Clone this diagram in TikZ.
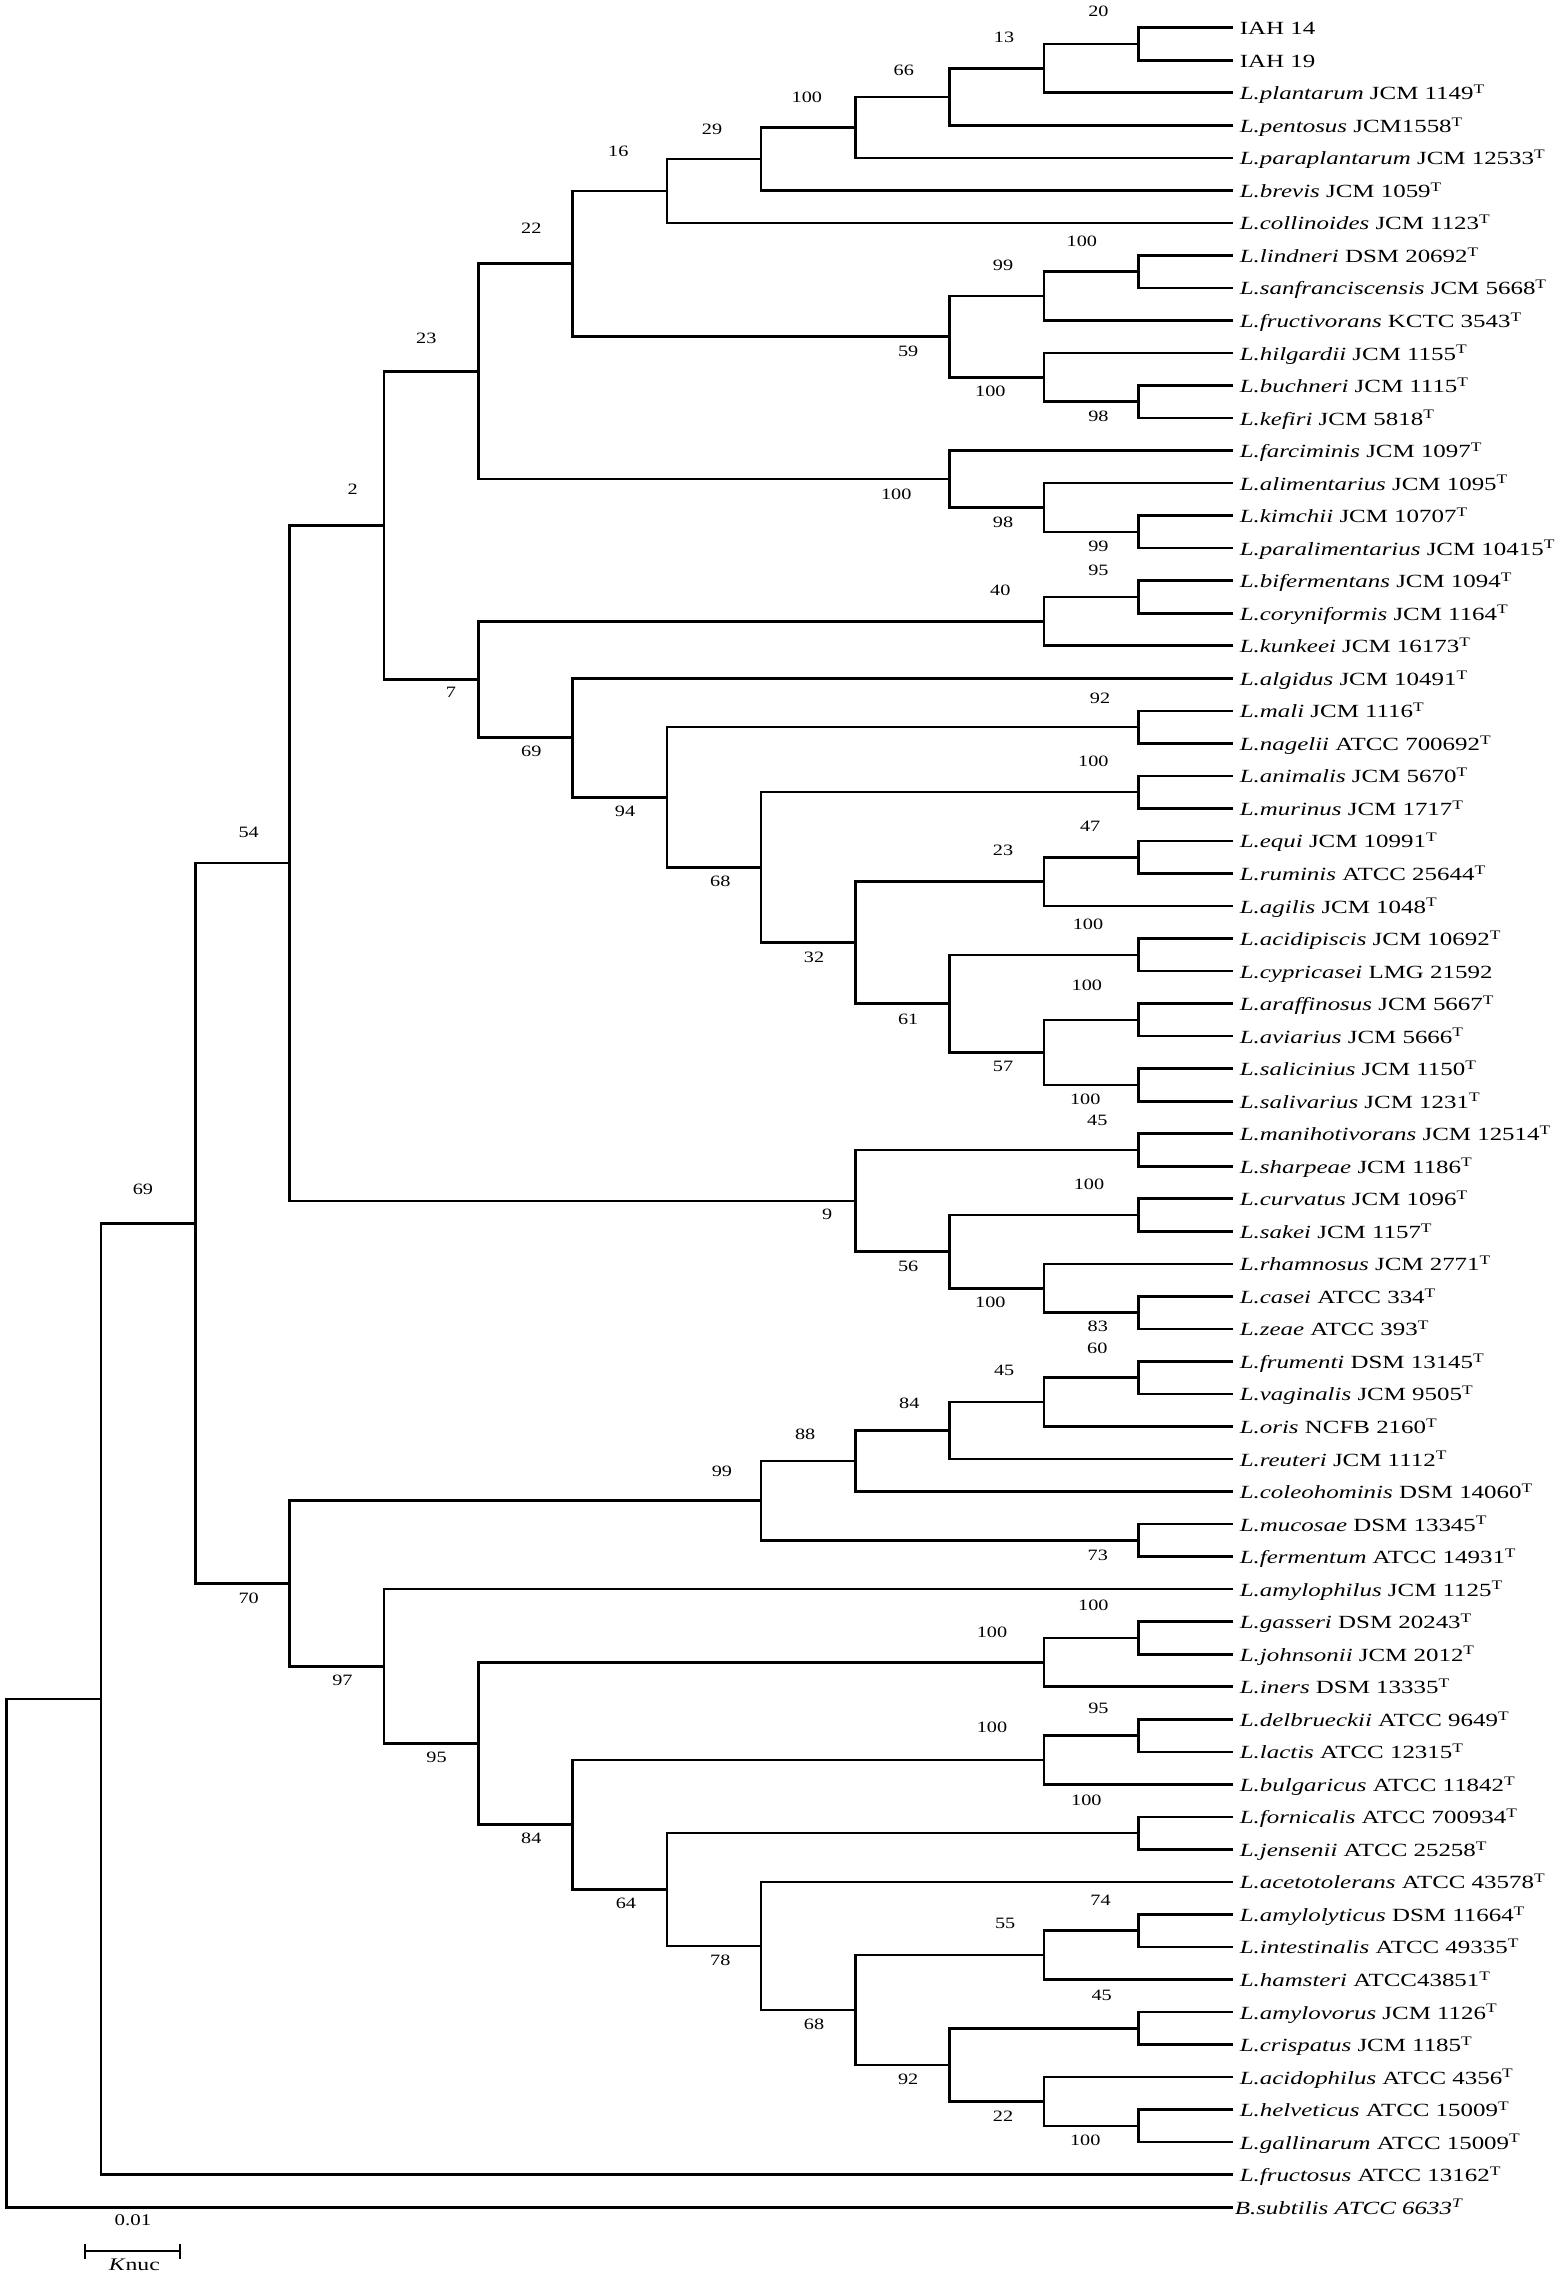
\documentclass[tikz,border=0pt]{standalone}
\usepackage{fontspec}
\setmainfont{Liberation Serif}
\newfontfamily\leaffont{Liberation Serif}[FakeStretch=1.34]
\newfontfamily\bsfont{Liberation Serif}[FakeStretch=1.28]
\newcommand{\typeT}{\textsuperscript{T}}
\begin{document}
\begin{tikzpicture}[x=1pt,y=-1pt,
  declare function={X(\k)=6.7+94.3*\k; Y(\i)=27.7+(\i-1)*32.53;},
  branch/.style={line width=2.6pt, line join=miter},
  leaflab/.style={anchor=base west, inner sep=0pt, font=\leaffont\fontsize{18.6}{20}\selectfont},
  bslab/.style={anchor=center, inner sep=0pt, font=\bsfont\fontsize{15.8}{17}\selectfont}]
\fill[white] (0,0) rectangle (1559,2275);
\useasboundingbox (0,0) rectangle (1559,2275);

% leaves
\foreach \i/\txt in {
 1/{IAH 14},
 2/{IAH 19},
 3/{\textit{L.plantarum} JCM 1149\typeT},
 4/{\textit{L.pentosus} JCM1558\typeT},
 5/{\textit{L.paraplantarum} JCM 12533\typeT},
 6/{\textit{L.brevis} JCM 1059\typeT},
 7/{\textit{L.collinoides} JCM 1123\typeT},
 8/{\textit{L.lindneri} DSM 20692\typeT},
 9/{\textit{L.sanfranciscensis} JCM 5668\typeT},
 10/{\textit{L.fructivorans} KCTC 3543\typeT},
 11/{\textit{L.hilgardii} JCM 1155\typeT},
 12/{\textit{L.buchneri} JCM 1115\typeT},
 13/{\textit{L.kefiri} JCM 5818\typeT},
 14/{\textit{L.farciminis} JCM 1097\typeT},
 15/{\textit{L.alimentarius} JCM 1095\typeT},
 16/{\textit{L.kimchii} JCM 10707\typeT},
 17/{\textit{L.paralimentarius} JCM 10415\typeT},
 18/{\textit{L.bifermentans} JCM 1094\typeT},
 19/{\textit{L.coryniformis} JCM 1164\typeT},
 20/{\textit{L.kunkeei} JCM 16173\typeT},
 21/{\textit{L.algidus} JCM 10491\typeT},
 22/{\textit{L.mali} JCM 1116\typeT},
 23/{\textit{L.nagelii} ATCC 700692\typeT},
 24/{\textit{L.animalis} JCM 5670\typeT},
 25/{\textit{L.murinus} JCM 1717\typeT},
 26/{\textit{L.equi} JCM 10991\typeT},
 27/{\textit{L.ruminis} ATCC 25644\typeT},
 28/{\textit{L.agilis} JCM 1048\typeT},
 29/{\textit{L.acidipiscis} JCM 10692\typeT},
 30/{\textit{L.cypricasei} LMG 21592},
 31/{\textit{L.araffinosus} JCM 5667\typeT},
 32/{\textit{L.aviarius} JCM 5666\typeT},
 33/{\textit{L.salicinius} JCM 1150\typeT},
 34/{\textit{L.salivarius} JCM 1231\typeT},
 35/{\textit{L.manihotivorans} JCM 12514\typeT},
 36/{\textit{L.sharpeae} JCM 1186\typeT},
 37/{\textit{L.curvatus} JCM 1096\typeT},
 38/{\textit{L.sakei} JCM 1157\typeT},
 39/{\textit{L.rhamnosus} JCM 2771\typeT},
 40/{\textit{L.casei} ATCC 334\typeT},
 41/{\textit{L.zeae} ATCC 393\typeT},
 42/{\textit{L.frumenti} DSM 13145\typeT},
 43/{\textit{L.vaginalis} JCM 9505\typeT},
 44/{\textit{L.oris} NCFB 2160\typeT},
 45/{\textit{L.reuteri} JCM 1112\typeT},
 46/{\textit{L.coleohominis} DSM 14060\typeT},
 47/{\textit{L.mucosae} DSM 13345\typeT},
 48/{\textit{L.fermentum} ATCC 14931\typeT},
 49/{\textit{L.amylophilus} JCM 1125\typeT},
 50/{\textit{L.gasseri} DSM 20243\typeT},
 51/{\textit{L.johnsonii} JCM 2012\typeT},
 52/{\textit{L.iners} DSM 13335\typeT},
 53/{\textit{L.delbrueckii} ATCC 9649\typeT},
 54/{\textit{L.lactis} ATCC 12315\typeT},
 55/{\textit{L.bulgaricus} ATCC 11842\typeT},
 56/{\textit{L.fornicalis} ATCC 700934\typeT},
 57/{\textit{L.jensenii} ATCC 25258\typeT},
 58/{\textit{L.acetotolerans} ATCC 43578\typeT},
 59/{\textit{L.amylolyticus} DSM 11664\typeT},
 60/{\textit{L.intestinalis} ATCC 49335\typeT},
 61/{\textit{L.hamsteri} ATCC43851\typeT},
 62/{\textit{L.amylovorus} JCM 1126\typeT},
 63/{\textit{L.crispatus} JCM 1185\typeT},
 64/{\textit{L.acidophilus} ATCC 4356\typeT},
 65/{\textit{L.helveticus} ATCC 15009\typeT},
 66/{\textit{L.gallinarum} ATCC 15009\typeT},
 67/{\textit{L.fructosus} ATCC 13162\typeT}}
{
  \coordinate (t\i) at ({X(13)},{Y(\i)});
  \node[leaflab] (leaf\i) at ([xshift=7pt,yshift=-7pt]t\i) {\txt};
}
\coordinate (t68) at ({X(13)},{Y(68)});
\node[leaflab] (leaf68) at ([xshift=2pt,yshift=-7pt]t68) {\textit{B.subtilis ATCC 6633\textsuperscript{T}}};

% internal nodes: name/column/leaf-index position
\foreach \n/\k/\idx in {
 n20/12/1.5, n13/11/2.25, n66/10/3.125, n100a/9/4.0625, n29/8/5.03125, n16/7/6.015625,
 n100b/12/8.5, n99a/11/9.25, n98a/12/12.5, n100c/11/11.75, n59/10/10.5, n22/6/8.2578,
 n99b/12/16.5, n98b/11/15.75, n100d/10/14.875, n23/5/11.5664,
 n95a/12/18.5, n40/11/19.25, n92/12/22.5, n100e/12/24.5, n47/12/26.5, n23b/11/27.25,
 n100f/12/29.5, n100g/12/31.5, n100h/12/33.5, n57/11/32.5, n61/10/31, n32/9/29.125,
 n68/8/26.8125, n94/7/24.65625, n69/6/22.828, n7/5/21.039, n2/4/16.3027,
 n45/12/35.5, n100i/12/37.5, n83/12/40.5, n100j/11/39.75, n56/10/38.625, n9/9/37.0625,
 n54/3/26.6826,
 n60/12/42.5, n45b/11/43.25, n84a/10/44.125, n88/9/45.0625, n73/12/47.5, n99c/8/46.28,
 n100k/12/50.5, n100l/11/51.25, n95b/12/53.5, n100m/11/54.25, n100n/12/56.5,
 n74/12/59.5, n55/11/60.25, n45c/12/62.5, n100o/12/65.5, n22b/11/64.75, n92b/10/63.625,
 n68b/9/61.9375, n78/8/59.97, n64/7/58.23, n84b/6/56.24, n95c/5/53.745, n97/4/51.37,
 n70/3/48.83, n69b/2/37.756, n1/1/52.378, root/0/60.189}
{
  \coordinate (\n) at ({X(\k)},{Y(\idx)});
}

% branches
\foreach \p/\c in {
 n20/t1, n20/t2, n13/n20, n13/t3, n66/n13, n66/t4, n100a/n66, n100a/t5,
 n29/n100a, n29/t6, n16/n29, n16/t7,
 n100b/t8, n100b/t9, n99a/n100b, n99a/t10, n98a/t12, n98a/t13, n100c/t11, n100c/n98a,
 n59/n99a, n59/n100c, n22/n16, n22/n59,
 n99b/t16, n99b/t17, n98b/t15, n98b/n99b, n100d/t14, n100d/n98b, n23/n22, n23/n100d,
 n95a/t18, n95a/t19, n40/n95a, n40/t20, n92/t22, n92/t23, n100e/t24, n100e/t25,
 n47/t26, n47/t27, n23b/n47, n23b/t28, n100f/t29, n100f/t30, n100g/t31, n100g/t32,
 n100h/t33, n100h/t34, n57/n100g, n57/n100h, n61/n100f, n61/n57, n32/n23b, n32/n61,
 n68/n100e, n68/n32, n94/n92, n94/n68, n69/t21, n69/n94, n7/n40, n7/n69, n2/n23, n2/n7,
 n45/t35, n45/t36, n100i/t37, n100i/t38, n83/t40, n83/t41, n100j/t39, n100j/n83,
 n56/n100i, n56/n100j, n9/n45, n9/n56, n54/n2, n54/n9,
 n60/t42, n60/t43, n45b/n60, n45b/t44, n84a/n45b, n84a/t45, n88/n84a, n88/t46,
 n73/t47, n73/t48, n99c/n88, n99c/n73,
 n100k/t50, n100k/t51, n100l/n100k, n100l/t52, n95b/t53, n95b/t54, n100m/n95b, n100m/t55,
 n100n/t56, n100n/t57, n74/t59, n74/t60, n55/n74, n55/t61, n45c/t62, n45c/t63,
 n100o/t65, n100o/t66, n22b/t64, n22b/n100o, n92b/n45c, n92b/n22b, n68b/n55, n68b/n92b,
 n78/t58, n78/n68b, n64/n100n, n64/n78, n84b/n100m, n84b/n64, n95c/n100l, n95c/n84b,
 n97/t49, n97/n95c, n70/n99c, n70/n97, n69b/n54, n69b/n70, n1/n69b, n1/t67,
 root/n1, root/t68}
{
  \draw[branch] (\p) |- (\c);
}

% bootstrap values
\foreach \n/\x/\y/\v in {
 n20/1098.4/11.7/20, n13/1004/37.3/13, n66/903.8/70/66, n100a/806.8/97.3/100,
 n29/712/129.3/29, n16/618.3/151/16, n100b/1081.9/241/100, n99a/1003/265.7/99,
 n59/908.2/351.7/59, n100c/990.4/391.7/100, n98a/1098.4/416/98, n22/531.3/228.7/22,
 n23/426.3/338/23, n100d/896.2/494/100, n98b/1003/522.7/98, n99b/1098.4/546.7/99,
 n95a/1098.4/570.7/95, n40/1000.3/590.7/40, n2/352.7/489/2, n7/450.9/692/7,
 n92/1100/698.3/92, n69/531.3/751.5/69, n100e/1093.4/761.7/100, n94/625/811.6/94,
 n47/1090.1/826.7/47, n54/248.7/832.1/54, n23b/1003/850.7/23, n68/720.3/881.7/68,
 n100f/1088/924/100, n32/814/957.3/32, n100g/1086.8/985.7/100, n61/908.2/1019/61,
 n57/1003/1066.7/57, n100h/1085.2/1099.3/100, n45/1097.3/1120/45, n100i/1089/1184.3/100,
 n69b/142.9/1189.5/69, n9/827.1/1214/9, n56/908.2/1266/56, n100j/990.4/1302.7/100,
 n83/1097.8/1326.7/83, n60/1097.3/1348.3/60, n45b/1004.1/1370/45, n84a/909.3/1403.3/84,
 n88/805.2/1434.3/88, n99c/721.9/1471/99, n73/1097.8/1555/73, n70/248.7/1598.4/70,
 n100k/1093.4/1605/100, n100l/992/1632.3/100, n97/342.4/1680.8/97, n95b/1098.4/1708.3/95,
 n100m/992/1727.7/100, n95c/436.6/1757.6/95, n100n/1086.3/1800/100, n84b/531.3/1838.7/84,
 n74/1100.5/1900/74, n64/625.9/1903.2/64, n55/1005.2/1923.3/55, n78/720.3/1960/78,
 n45c/1101.6/1995/45, n68b/814/2024/68, n92b/908.2/2079.3/92, n22b/1003/2116/22,
 n100o/1085.2/2140/100}
{
  \node[bslab] (lab-\n) at (\x,\y) {\v};
}

% scale bar
\coordinate (sbl) at (85,2251);
\coordinate (sbr) at (180,2251);
\draw[line width=2.2pt] (sbl) -- (sbr);
\draw[line width=2.2pt] ([yshift=7.5pt]sbl) -- ([yshift=-7.5pt]sbl);
\draw[line width=2.2pt] ([yshift=7.5pt]sbr) -- ([yshift=-7.5pt]sbr);
\node[bslab, font=\bsfont\fontsize{16.3}{18}\selectfont] (scaleval) at (133,2220.5) {0.01};
\node[anchor=base, inner sep=0pt, font=\leaffont\fontsize{17.7}{19}\selectfont] (scaleunit) at (134.3,2270) {\textit{K}nuc};
\end{tikzpicture}
\end{document}
